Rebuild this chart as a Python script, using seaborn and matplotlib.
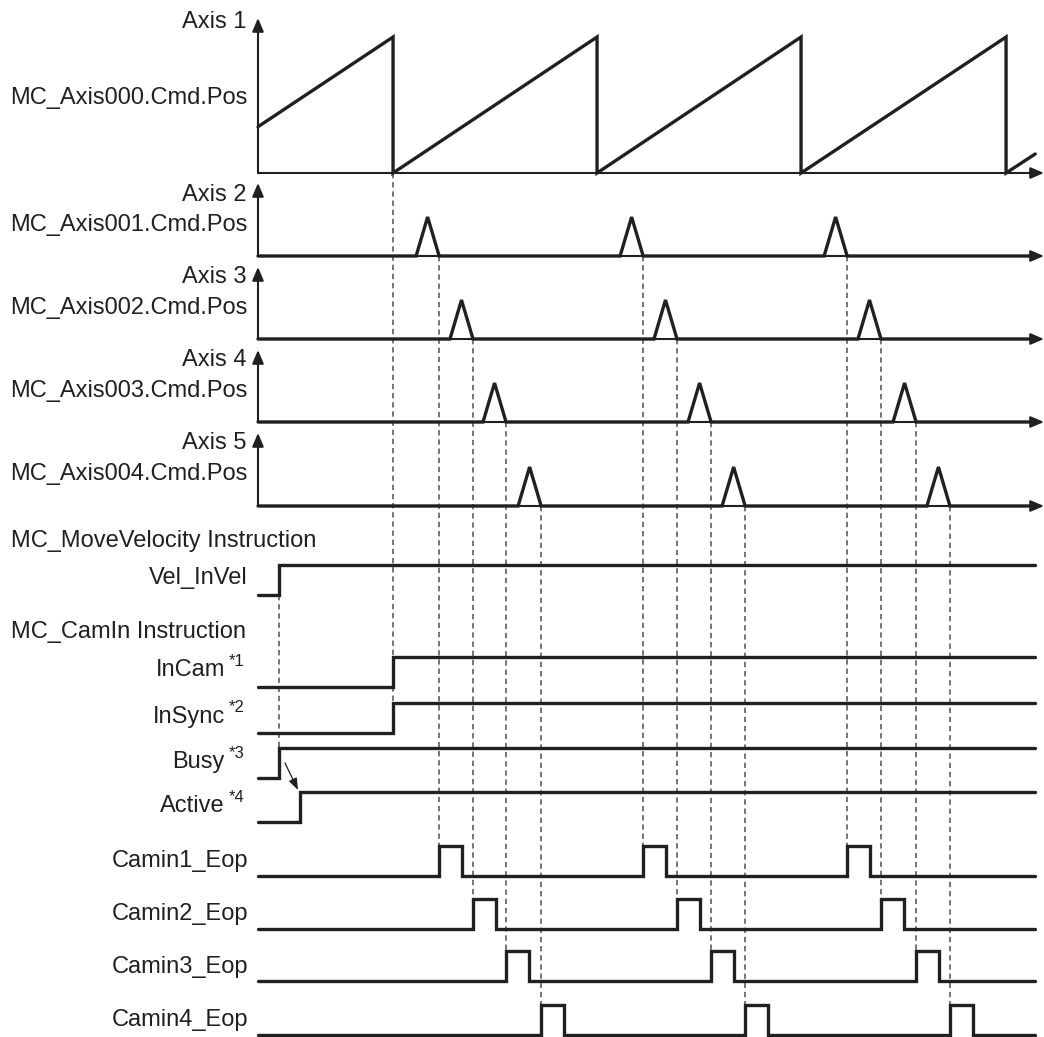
import numpy as np
import pandas as pd
import seaborn as sns
import matplotlib.pyplot as plt

sns.set_theme(style="white")
plt.rcParams['font.family'] = ['Liberation Sans', 'DejaVu Sans']

INK = "#231f20"
DASH = "#505050"

# ---------------- data (time in arbitrary units, one cam cycle ~ 100) ----------------
# Axis 1 (master) saw-tooth command position, normalised 0..1
saw_t = [0, 66.2, 66.2, 166.2, 166.2, 266.2, 266.2, 366.7, 366.7, 381]
saw_v = [0.34, 1, 0, 1, 0, 1, 0, 1, 0, 0.14]

axis_names = ["Axis 1", "Axis 2", "Axis 3", "Axis 4", "Axis 5"]
pos_names = ["MC_Axis000.Cmd.Pos", "MC_Axis001.Cmd.Pos", "MC_Axis002.Cmd.Pos",
             "MC_Axis003.Cmd.Pos", "MC_Axis004.Cmd.Pos"]

# slave axes: start time of each triangular cam move
axis2_peaks = [77.5, 177.5, 277.5]
axis3_peaks = [94.1, 194.1, 294.1]
axis4_peaks = [110.3, 210.8, 311.3]
axis5_peaks = [127.5, 227.5, 327.9]
peak_width = 11.3

# single-edge status signals
step_names = ["Vel_InVel", "InCam", "InSync", "Busy", "Active"]
step_notes = ["", "*1", "*2", "*3", "*4"]
step_rise = [10.3, 66.2, 66.4, 10.3, 20.6]

# end-of-profile pulses
eop_names = ["Camin1_Eop", "Camin2_Eop", "Camin3_Eop", "Camin4_Eop"]
eop1_rise = [88.8, 188.8, 288.8]
eop2_rise = [105.4, 205.4, 305.4]
eop3_rise = [121.6, 222.1, 322.6]
eop4_rise = [138.8, 238.8, 339.2]
eop_width = 11.3

headers = ["MC_MoveVelocity Instruction", "MC_CamIn Instruction"]

T_END = 381
T_AXIS_END = 385.3

# ---------------- layout (pixel rows, y grows downwards) ----------------
X0, PX = 258, 2.04          # pixel of t=0, pixels per time unit
def px_to_t(x):
    return (x - X0) / PX

axis_base = [173, 256, 339, 422, 506]
axis_amp = [136, 39, 39, 39, 39]
axis_top = [18, 183, 267, 350, 433]
axis_label_y = [22, 195, 277, 360, 443]
pos_label_y = [98, 225, 308, 391, 474]

step_low = [595, 687, 733, 778, 822]
step_label_y = [578, 670, 717, 762, 806]
eop_low = [876, 929, 981, 1035]
eop_label_y = [861, 914, 967, 1020]
HIGH = 30
header_y = [541, 632]

# ---------------- build traces ----------------
rows = []
def add(sig, ts, ys):
    for t, y in zip(ts, ys):
        rows.append({"sig": sig, "t": t, "y": y})

add("Axis 1", saw_t, [axis_base[0] - v * axis_amp[0] for v in saw_v])

for k, starts in enumerate([axis2_peaks, axis3_peaks, axis4_peaks, axis5_peaks], start=1):
    ts, vs = [0], [0]
    for s in starts:
        ts += [s, s + peak_width / 2, s + peak_width]
        vs += [0, 1, 0]
    ts.append(T_END)
    vs.append(0)
    add(axis_names[k], ts, [axis_base[k] - v * axis_amp[k] for v in vs])

for i, name in enumerate(step_names):
    r = step_rise[i]
    add(name, [0, r, r, T_END], [step_low[i], step_low[i], step_low[i] - HIGH, step_low[i] - HIGH])

eop_rises = [eop1_rise, eop2_rise, eop3_rise, eop4_rise]
for i, name in enumerate(eop_names):
    ts, vs = [0], [0]
    for r in eop_rises[i]:
        ts += [r, r, r + eop_width, r + eop_width]
        vs += [0, 1, 1, 0]
    ts.append(T_END)
    vs.append(0)
    add(name, ts, [eop_low[i] - v * HIGH for v in vs])

df = pd.DataFrame(rows)

# ---------------- draw ----------------
fig = plt.figure(figsize=(10.44, 10.37), dpi=100)
ax = fig.add_axes([0, 0, 1, 1])

# dashed guide lines
ax.vlines(step_rise[0], step_low[0], step_low[3] - HIGH, colors=DASH, lw=1.1,
          linestyles=(0, (3.5, 2.5)), zorder=1)
ax.vlines(step_rise[1], axis_base[0], step_low[2] - HIGH, colors=DASH, lw=1.1,
          linestyles=(0, (3.5, 2.5)), zorder=1)
for i, rises in enumerate(eop_rises):
    ax.vlines(rises, axis_base[i + 1], eop_low[i] - HIGH, colors=DASH, lw=1.1,
              linestyles=(0, (3.5, 2.5)), zorder=1)

# coordinate axes with arrow heads
head = "-|>,head_length=0.4,head_width=0.17"
for k in range(5):
    ax.annotate("", xy=(0, axis_top[k]), xytext=(0, axis_base[k]),
                arrowprops=dict(arrowstyle=head, color=INK, lw=1.5,
                                shrinkA=0, shrinkB=0, mutation_scale=20))
    ax.annotate("", xy=(T_AXIS_END, axis_base[k]), xytext=(0, axis_base[k]),
                arrowprops=dict(arrowstyle=head, color=INK, lw=1.5,
                                shrinkA=0, shrinkB=0, mutation_scale=20))

sns.lineplot(data=df, x="t", y="y", units="sig", estimator=None, sort=False,
             color=INK, linewidth=2.4, ax=ax, legend=False, zorder=3,
             solid_joinstyle="miter")
ax.set_xlim(px_to_t(0), px_to_t(1044))
ax.set_ylim(1037, 0)
ax.axis("off")

# Busy -> Active arrow
ax.annotate("", xy=(px_to_t(298), 790), xytext=(px_to_t(285), 763),
            arrowprops=dict(arrowstyle="-|>,head_length=0.35,head_width=0.13",
                            color=INK, lw=0.9, shrinkA=0, shrinkB=0, mutation_scale=20))

# labels
FS = 17
for k in range(5):
    ax.text(px_to_t(247), axis_label_y[k], axis_names[k], ha="right", va="center",
            fontsize=FS, color=INK)
    ax.text(px_to_t(248), pos_label_y[k], pos_names[k], ha="right", va="center",
            fontsize=FS, color=INK)

for i, name in enumerate(step_names):
    if step_notes[i]:
        ax.text(px_to_t(225), step_label_y[i], name, ha="right", va="center",
                fontsize=FS, color=INK)
        ax.text(px_to_t(229), step_label_y[i] - 9, step_notes[i], ha="left",
                va="center", fontsize=12, color=INK)
    else:
        ax.text(px_to_t(248), step_label_y[i], name, ha="right", va="center",
                fontsize=FS, color=INK)

for i, name in enumerate(eop_names):
    ax.text(px_to_t(248), eop_label_y[i], name, ha="right", va="center",
            fontsize=FS, color=INK)

for i, h in enumerate(headers):
    ax.text(px_to_t(11), header_y[i], h, ha="left", va="center", fontsize=FS, color=INK)

fig.savefig("out.png", dpi=100, facecolor="white")
